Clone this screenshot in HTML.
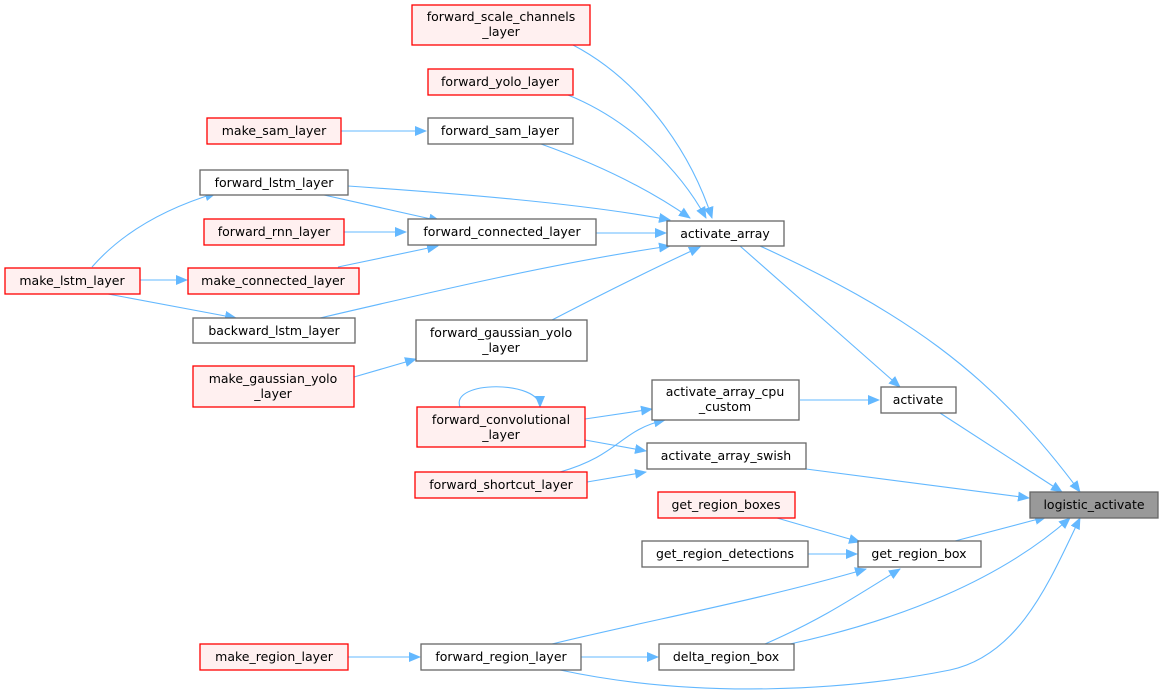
<!DOCTYPE html>
<html><head><meta charset="utf-8"><style>
body{margin:0;background:#fff;}
svg text{font-family:"DejaVu Sans","Liberation Sans",sans-serif;font-size:12.5px;fill:#000;text-anchor:middle;}
.n{fill:#fff;stroke:#666;stroke-width:1.3}
.r{fill:#fff0f0;stroke:#ff0000;stroke-width:1.3}
.g{fill:#999;stroke:#666;stroke-width:1.3}
.e{fill:none;stroke:#63b8ff;stroke-width:1.1;marker-end:url(#a)}
</style></head><body>
<svg width="1163" height="695" viewBox="0 0 1163 695" xmlns="http://www.w3.org/2000/svg">
<defs><marker id="a" markerWidth="12" markerHeight="10" refX="11" refY="5" orient="auto" markerUnits="userSpaceOnUse"><path d="M0,0 L12,5 L0,10 z" fill="#63b8ff"/></marker></defs>
<path class="e" d="M573,45 C640,80 690,150 712,218"/>
<path class="e" d="M568,95 C630,120 680,170 706,218"/>
<path class="e" d="M541,144 C600,165 650,190 690,218"/>
<path class="e" d="M348,186 C450,193 580,203 670,220"/>
<path class="e" d="M596,233 L666,233"/>
<path class="e" d="M320,318 C440,290 560,262 670,246"/>
<path class="e" d="M552,320 C600,295 650,270 700,247"/>
<path class="e" d="M341,131 L426,131"/>
<path class="e" d="M92,267 C120,235 160,210 216,193"/>
<path class="e" d="M140,280 L187,280"/>
<path class="e" d="M108,294 L236,318"/>
<path class="e" d="M324,195 L440,221"/>
<path class="e" d="M344,232 L406,232"/>
<path class="e" d="M338,267 L438,246"/>
<path class="e" d="M740,246 L900,387"/>
<path class="e" d="M760,246 C900,310 990,370 1080,492"/>
<path class="e" d="M354,377 L416,359"/>
<path class="e" d="M800,400 L879,400"/>
<path class="e" d="M940,413 L1062,492"/>
<path class="e" d="M460,407 C450,380 540,380 540,407"/>
<path class="e" d="M585,419 L652,409"/>
<path class="e" d="M585,440 L646,451"/>
<path class="e" d="M560,472 C620,455 620,430 665,420"/>
<path class="e" d="M587,482 L646,472"/>
<path class="e" d="M806,469 L1029,498"/>
<path class="e" d="M777,518 L860,542"/>
<path class="e" d="M808,554 L857,554"/>
<path class="e" d="M955,541 L1046,517"/>
<path class="e" d="M552,644 C650,620 760,600 866,569"/>
<path class="e" d="M765,644 C820,620 850,600 900,569"/>
<path class="e" d="M790,644 C900,620 1000,580 1070,518"/>
<path class="e" d="M348,657 L420,657"/>
<path class="e" d="M581,657 L658,657"/>
<path class="e" d="M560,670 C700,700 850,690 950,670 C1020,655 1050,580 1080,518"/>
<rect class="r" x="412" y="5" width="178" height="40"/><text x="501" y="21">forward_scale_channels</text><text x="501" y="36">_layer</text>
<rect class="r" x="428" y="69" width="145" height="26"/><text x="500" y="86">forward_yolo_layer</text>
<rect class="r" x="207" y="118" width="134" height="26"/><text x="274" y="135">make_sam_layer</text>
<rect class="n" x="428" y="118" width="145" height="26"/><text x="500" y="135">forward_sam_layer</text>
<rect class="n" x="200" y="170" width="148" height="25"/><text x="274" y="187">forward_lstm_layer</text>
<rect class="r" x="204" y="219" width="140" height="26"/><text x="274" y="236">forward_rnn_layer</text>
<rect class="n" x="408" y="219" width="188" height="26"/><text x="502" y="236">forward_connected_layer</text>
<rect class="n" x="667" y="221" width="117" height="25"/><text x="725" y="238">activate_array</text>
<rect class="r" x="5" y="268" width="135" height="26"/><text x="72" y="285">make_lstm_layer</text>
<rect class="r" x="188" y="268" width="171" height="26"/><text x="273" y="285">make_connected_layer</text>
<rect class="n" x="193" y="318" width="162" height="25"/><text x="274" y="335">backward_lstm_layer</text>
<rect class="n" x="416" y="320" width="171" height="41"/><text x="501" y="337">forward_gaussian_yolo</text><text x="501" y="352">_layer</text>
<rect class="r" x="193" y="366" width="161" height="41"/><text x="273" y="383">make_gaussian_yolo</text><text x="273" y="398">_layer</text>
<rect class="n" x="652" y="380" width="147" height="40"/><text x="725" y="396">activate_array_cpu</text><text x="725" y="411">_custom</text>
<rect class="n" x="881" y="387" width="75" height="26"/><text x="918" y="404">activate</text>
<rect class="r" x="417" y="407" width="168" height="40"/><text x="501" y="424">forward_convolutional</text><text x="501" y="439">_layer</text>
<rect class="n" x="647" y="443" width="159" height="26"/><text x="726" y="460">activate_array_swish</text>
<rect class="r" x="415" y="472" width="172" height="26"/><text x="501" y="489">forward_shortcut_layer</text>
<rect class="g" x="1030" y="492" width="128" height="26"/><text x="1094" y="509">logistic_activate</text>
<rect class="r" x="658" y="492" width="137" height="26"/><text x="726" y="509">get_region_boxes</text>
<rect class="n" x="642" y="541" width="166" height="26"/><text x="725" y="558">get_region_detections</text>
<rect class="n" x="858" y="541" width="123" height="26"/><text x="919" y="558">get_region_box</text>
<rect class="r" x="200" y="644" width="148" height="26"/><text x="274" y="661">make_region_layer</text>
<rect class="n" x="421" y="644" width="160" height="26"/><text x="501" y="661">forward_region_layer</text>
<rect class="n" x="659" y="644" width="135" height="26"/><text x="726" y="661">delta_region_box</text>
</svg>
</body></html>
